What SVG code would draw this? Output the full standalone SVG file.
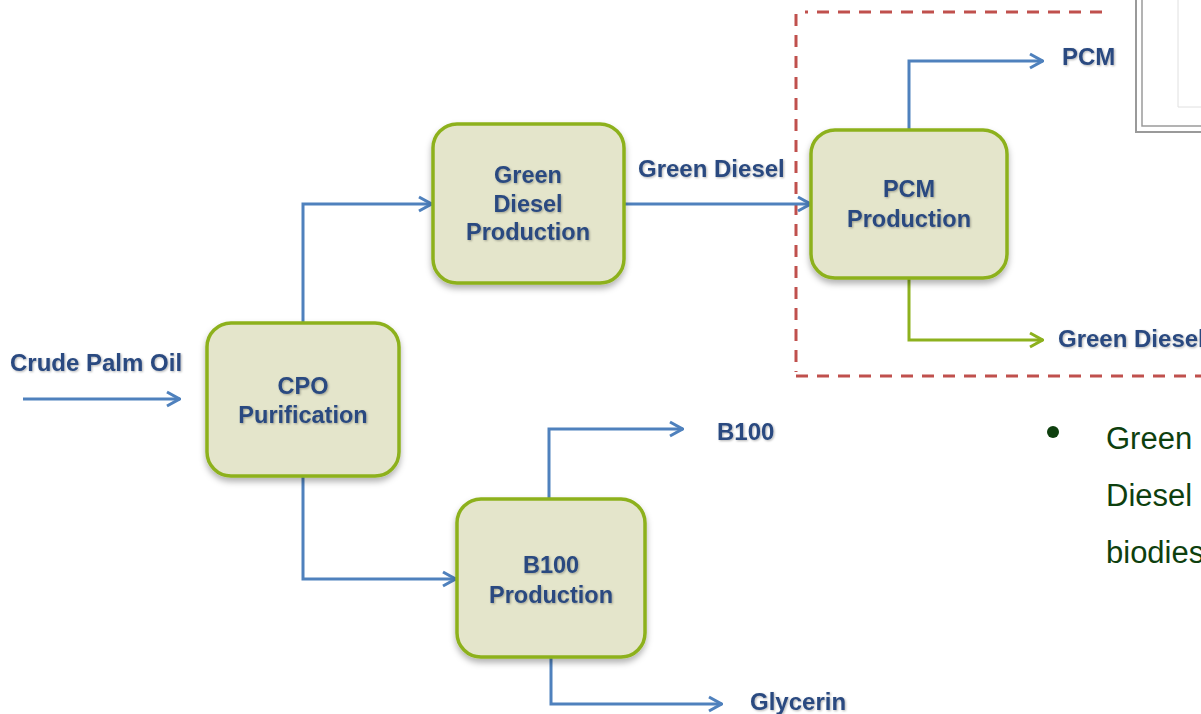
<svg xmlns="http://www.w3.org/2000/svg" width="1201" height="714" viewBox="0 0 1201 714">
<style>
.box{fill:#E4E5CB;stroke:#8DB11E;stroke-width:3.5}
.lbl{font-family:"Liberation Sans",Arial,sans-serif;font-weight:bold;font-size:23.5px;fill:#2A4A80}
.big{font-size:24px}
.ctr{text-anchor:middle}
.c{fill:none;stroke:#4F81BD;stroke-width:3}
.g{fill:none;stroke:#8DB11E;stroke-width:3}
.bul{font-family:"Liberation Sans",Arial,sans-serif;font-size:31px;fill:#0E3F0E}
</style>
<defs>
<marker id="ab" viewBox="0 0 16 18" refX="15" refY="9" markerWidth="16" markerHeight="18" markerUnits="userSpaceOnUse" orient="auto"><path d="M2,2 L14.5,9 L2,16" fill="none" stroke="#4F81BD" stroke-width="3"/></marker>
<marker id="ag" viewBox="0 0 16 18" refX="15" refY="9" markerWidth="16" markerHeight="18" markerUnits="userSpaceOnUse" orient="auto"><path d="M2,2 L14.5,9 L2,16" fill="none" stroke="#8DB11E" stroke-width="3"/></marker>
<filter id="sh" x="-10%" y="-10%" width="130%" height="130%"><feDropShadow dx="0" dy="4" stdDeviation="3" flood-color="#000" flood-opacity="0.3"/></filter>
<filter id="ts" x="-5%" y="-20%" width="110%" height="150%"><feDropShadow dx="1" dy="1" stdDeviation="0.8" flood-color="#000" flood-opacity="0.3"/></filter>
</defs>
<rect width="1201" height="714" fill="#fff"/>
<g id="frame" fill="none" stroke="#9A9A9A">
<path d="M1136,0 V132 H1201" stroke-width="2"/>
<path d="M1142,0 V126 H1201" stroke-width="1.5"/>
<path d="M1178,0 V107 H1201" stroke="#E0E0E0" stroke-width="1"/>
</g>
<g id="dashed" fill="none" stroke="#C0504D" stroke-width="3" stroke-dasharray="12 9">
<path d="M1102,12 H805"/>
<path d="M796,14 V372"/>
<path d="M796,376 H1201"/>
</g>
<g id="connectors">
<path class="c" d="M23,399 H180" marker-end="url(#ab)"/>
<path class="c" d="M303,323 V204 H432" marker-end="url(#ab)"/>
<path class="c" d="M303,476 V579 H456" marker-end="url(#ab)"/>
<path class="c" d="M624,204 H811" marker-end="url(#ab)"/>
<path class="c" d="M909,130 V61 H1043" marker-end="url(#ab)"/>
<path class="g" d="M909,278 V340 H1043" marker-end="url(#ag)"/>
<path class="c" d="M549,499 V429 H683" marker-end="url(#ab)"/>
<path class="c" d="M551,657 V704 H722" marker-end="url(#ab)"/>
</g>
<g id="cpo">
<rect class="box" x="207" y="323" width="192" height="153" rx="24" filter="url(#sh)"/>
<text class="lbl ctr" x="303" y="394" filter="url(#ts)">CPO</text>
<text class="lbl ctr" x="303" y="423" filter="url(#ts)">Purification</text>
</g>
<g id="green-diesel">
<rect class="box" x="433" y="124" width="191" height="159" rx="24" filter="url(#sh)"/>
<text class="lbl ctr" x="528" y="183" filter="url(#ts)">Green</text>
<text class="lbl ctr" x="528" y="212" filter="url(#ts)">Diesel</text>
<text class="lbl ctr" x="528" y="240" filter="url(#ts)">Production</text>
</g>
<g id="pcm">
<rect class="box" x="811" y="130" width="196" height="148" rx="24" filter="url(#sh)"/>
<text class="lbl ctr" x="909" y="197" filter="url(#ts)">PCM</text>
<text class="lbl ctr" x="909" y="227" filter="url(#ts)">Production</text>
</g>
<g id="b100">
<rect class="box" x="457" y="499" width="188" height="158" rx="24" filter="url(#sh)"/>
<text class="lbl ctr" x="551" y="573" filter="url(#ts)">B100</text>
<text class="lbl ctr" x="551" y="603" filter="url(#ts)">Production</text>
</g>
<g id="labels">
<text class="lbl big" x="10" y="371" filter="url(#ts)">Crude Palm Oil</text>
<text class="lbl big" x="638" y="177" filter="url(#ts)">Green Diesel</text>
<text class="lbl big" x="1062" y="65" filter="url(#ts)">PCM</text>
<text class="lbl big" x="1058" y="347" filter="url(#ts)">Green Diesel</text>
<text class="lbl big" x="717" y="440" filter="url(#ts)">B100</text>
<text class="lbl big" x="750" y="710" filter="url(#ts)">Glycerin</text>
</g>
<g id="bullet">
<circle cx="1053" cy="432" r="6" fill="#0E3F0E"/>
<text class="bul" x="1106" y="449">Green</text>
<text class="bul" x="1106" y="506">Diesel</text>
<text class="bul" x="1106" y="563">biodies</text>
</g>
</svg>
